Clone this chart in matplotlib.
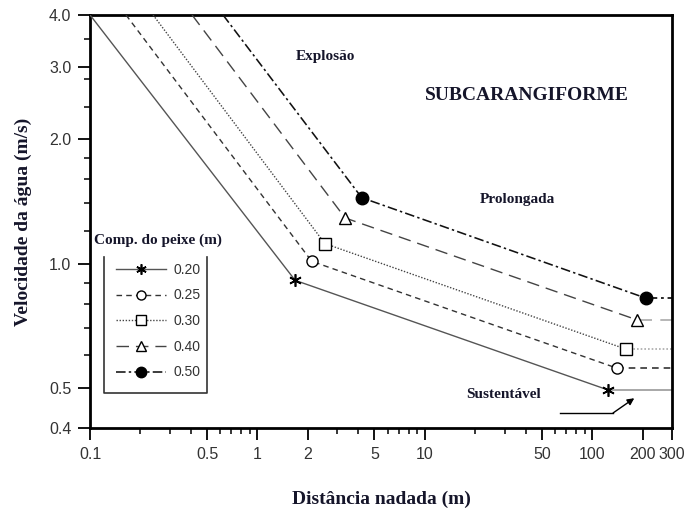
import matplotlib
matplotlib.use("Agg")
import matplotlib.pyplot as plt
from matplotlib.lines import Line2D
from matplotlib.ticker import FixedLocator, NullFormatter

# Fish length classes (m)
sizes = ["0.20", "0.25", "0.30", "0.40", "0.50"]

# Each curve: start on the upper edge (v = 4.0), burst/prolonged break,
# prolonged/sustained break, then constant sustained speed to 300 m.
x_start = [0.10, 0.164, 0.238, 0.407, 0.623]
x_break1 = [1.68, 2.11, 2.53, 3.34, 4.20]
v_break1 = [0.911, 1.013, 1.118, 1.29, 1.444]
x_break2 = [125.0, 141.0, 158.5, 184.5, 209.0]
v_break2 = [0.494, 0.558, 0.621, 0.731, 0.825]
v_top = 4.0
x_end = 300.0

x_major = [0.1, 0.5, 1, 2, 5, 10, 50, 100, 200, 300]
x_major_labels = ["0.1", "0.5", "1", "2", "5", "10", "50", "100", "200", "300"]
x_minor = [0.2, 0.3, 0.4, 0.6, 0.7, 0.8, 0.9, 3, 4, 6, 7, 8, 9,
           20, 30, 40, 60, 70, 80, 90]
y_major = [0.4, 0.5, 1.0, 2.0, 3.0, 4.0]
y_major_labels = ["0.4", "0.5", "1.0", "2.0", "3.0", "4.0"]
y_minor = [0.6, 0.7, 0.8, 0.9, 1.2, 1.4, 1.6, 1.8, 2.4, 2.8, 3.5]

styles = [
    dict(color="#555555", ls="-", lw=1.0, marker=(6, 2, 0), ms=9, mfc="none", mec="black", mew=1.2, tail="#999999"),
    dict(color="#333333", ls=(0, (4, 3)), lw=1.0, marker="o", ms=8, mfc="white", mec="black", mew=1.0, tail="#333333"),
    dict(color="#444444", ls=(0, (1, 1.2)), lw=1.0, marker="s", ms=8, mfc="white", mec="black", mew=1.0, tail="#aaaaaa"),
    dict(color="#444444", ls=(0, (9, 5)), lw=1.0, marker="^", ms=9, mfc="white", mec="black", mew=1.0, tail="#aaaaaa"),
    dict(color="#111111", ls=(0, (6, 2, 1.5, 2)), lw=1.15, marker="o", ms=9, mfc="black", mec="black", mew=1.0, tail="#222222"),
]

serif = "Liberation Serif"
sans = "Liberation Sans"
txt_color = "#15152a"

fig = plt.figure(figsize=(6.84, 5.15), dpi=100)
ax = fig.add_axes([0.1316, 0.169, 0.851, 0.802])
ax.set_xscale("log")
ax.set_yscale("log")
ax.set_xlim(0.1, 300)
ax.set_ylim(0.4, 4.0)

handles = []
for i, lab in enumerate(sizes):
    st = styles[i]
    xs = [x_start[i], x_break1[i], x_break2[i]]
    ys = [v_top, v_break1[i], v_break2[i]]
    ax.plot([x_break2[i], x_end], [v_break2[i], v_break2[i]],
            color=st["tail"], ls=st["ls"], lw=st["lw"] + 0.2, zorder=2)
    ax.plot(xs, ys, color=st["color"], ls=st["ls"], lw=st["lw"],
            marker=st["marker"], ms=st["ms"], mfc=st["mfc"],
            mec=st["mec"], mew=st["mew"], markevery=[1, 2],
            label=lab, zorder=3)
    handles.append(Line2D([], [], color=st["color"], ls=st["ls"], lw=st["lw"],
                          marker=st["marker"], ms=st["ms"] - 1.5, mfc=st["mfc"],
                          mec=st["mec"], mew=st["mew"]))

# axes ticks
ax.xaxis.set_major_locator(FixedLocator(x_major))
ax.xaxis.set_minor_locator(FixedLocator(x_minor))
ax.set_xticklabels(x_major_labels)
ax.xaxis.set_minor_formatter(NullFormatter())
ax.yaxis.set_major_locator(FixedLocator(y_major))
ax.yaxis.set_minor_locator(FixedLocator(y_minor))
ax.set_yticklabels(y_major_labels)
ax.yaxis.set_minor_formatter(NullFormatter())
ax.tick_params(which="major", direction="out", length=8.5, width=1.3,
               labelsize=11.5, labelcolor="#333333", pad=5)
ax.tick_params(which="minor", direction="out", length=4.5, width=1.1)
for lbl in ax.get_xticklabels() + ax.get_yticklabels():
    lbl.set_fontfamily(sans)
for sp in ax.spines.values():
    sp.set_linewidth(2.0)

ax.set_xlabel("Distância nadada (m)", fontfamily=serif, fontweight="bold",
              fontsize=14, color=txt_color, labelpad=21)
ax.set_ylabel("Velocidade da água (m/s)", fontfamily=serif, fontweight="bold",
              fontsize=14, color=txt_color, labelpad=12)

# legend (three-sided box with title above)
leg = ax.legend(handles, sizes, loc="upper left", bbox_to_anchor=(0.045, 0.400),
                frameon=False, borderpad=0, borderaxespad=0, numpoints=1,
                handlelength=3.6, handletextpad=0.55, labelspacing=0.84,
                prop=dict(family=sans, size=10))
for t in leg.get_texts():
    t.set_color("#333333")
box_x = [0.024, 0.024, 0.201, 0.201]
box_y = [0.415, 0.085, 0.085, 0.415]
ax.plot(box_x, box_y, color="#333333", lw=1.2, transform=ax.transAxes,
        clip_on=False, zorder=4)
ax.text(0.006, 0.455, "Comp. do peixe (m)", transform=ax.transAxes,
        fontfamily=serif, fontweight="bold", fontsize=11, color=txt_color,
        ha="left", va="center")

# region labels
ax.text(0.404, 0.900, "Explosão", transform=ax.transAxes, fontfamily=serif,
        fontweight="bold", fontsize=11, color=txt_color, ha="center", va="center")
ax.text(0.751, 0.806, "SUBCARANGIFORME", transform=ax.transAxes, fontfamily=serif,
        fontweight="bold", fontsize=14, color=txt_color, ha="center", va="center")
ax.text(0.735, 0.552, "Prolongada", transform=ax.transAxes, fontfamily=serif,
        fontweight="bold", fontsize=11, color=txt_color, ha="center", va="center")
ax.text(0.710, 0.080, "Sustentável", transform=ax.transAxes, fontfamily=serif,
        fontweight="bold", fontsize=11, color=txt_color, ha="center", va="center")

# pointer to the sustained-speed segment
ax.plot([0.8076, 0.8986], [0.0363, 0.0363], color="black", lw=1.0,
        transform=ax.transAxes)
ax.annotate("", xy=(0.935, 0.072), xytext=(0.8986, 0.0363),
            xycoords="axes fraction", textcoords="axes fraction",
            arrowprops=dict(arrowstyle="-|>", color="black", lw=1.0,
                            mutation_scale=10, shrinkA=0, shrinkB=0))

fig.savefig("out.png", dpi=100)
